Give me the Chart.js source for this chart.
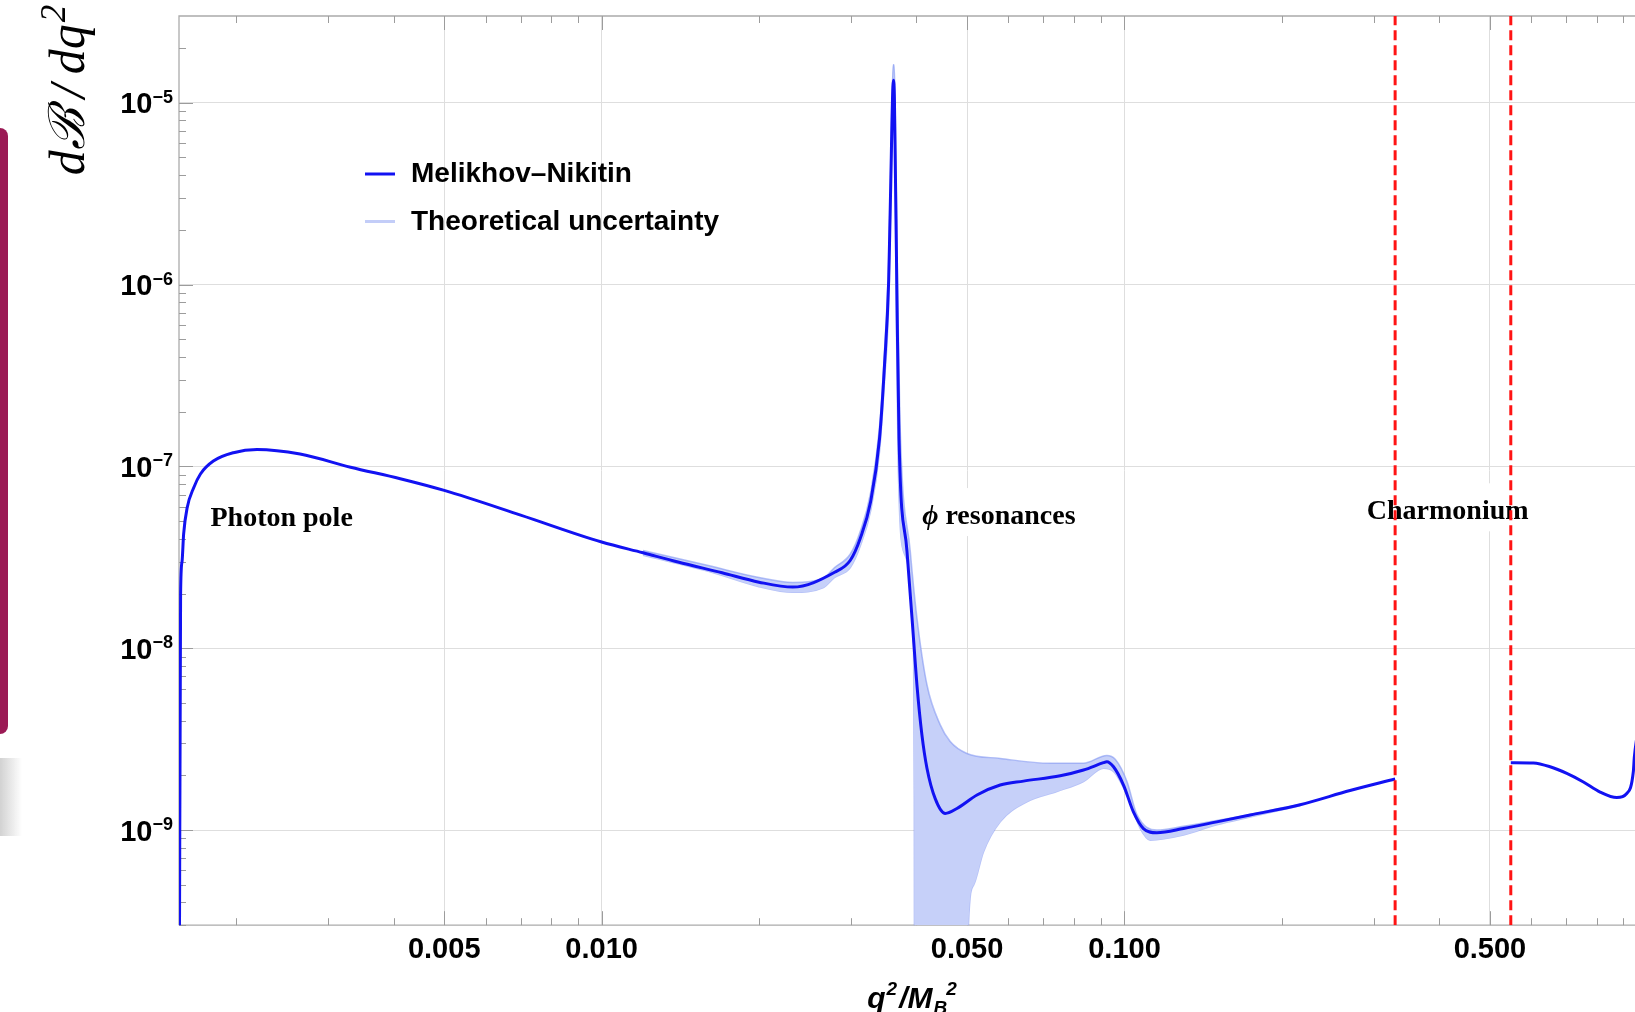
<!DOCTYPE html>
<html>
<head>
<meta charset="utf-8">
<title>dB/dq2 – Melikhov–Nikitin</title>
<script src="https://cdn.jsdelivr.net/npm/chart.js@4.4.1/dist/chart.umd.min.js"></script>
<style>
  html, body { margin: 0; padding: 0; background: #fff; }
  #wrap { position: relative; width: 1635px; height: 1012px; overflow: hidden; }
  canvas { display: block; }
  .edge-strip { position: absolute; left: -8px; top: 128px; width: 16px; height: 606px; background: #9b1a55; border-radius: 9px; }
  .edge-shade { position: absolute; left: 0; top: 758px; width: 22px; height: 78px; background: linear-gradient(to right, #d2d2d2, rgba(255,255,255,0)); }
</style>
</head>
<body>
<div id="wrap">
  <canvas id="rateChart" width="1635" height="1012"></canvas>
  <div class="edge-strip"></div>
  <div class="edge-shade"></div>
</div>
<script>
// ---------------------------------------------------------------------------
// Data: differential branching ratio vs q^2/M_B^2
// ---------------------------------------------------------------------------
const qMin = 0.001555, qMax = 0.947;
const rateMin = 3e-10, rateMax = 3e-5;

const qTicks = [0.005, 0.01, 0.05, 0.1, 0.5];
const rateTicks = [1e-9, 1e-8, 1e-7, 1e-6, 1e-5];
const rateTickExps = ['\u22129', '\u22128', '\u22127', '\u22126', '\u22125'];

const seriesNames = ['Melikhov\u2013Nikitin', 'Theoretical uncertainty'];
const regionLabels = ['Photon pole', 'resonances', 'Charmonium'];

// charmonium veto window
const charmoniumCuts = [0.3293, 0.548];

// central curve
const qCentral = [0.001557, 0.001566, 0.001576, 0.001587, 0.001612, 0.001659, 0.001709, 0.001809, 0.001976, 0.002193,
  0.00265, 0.00331, 0.00412, 0.005, 0.007, 0.01, 0.012, 0.014, 0.017, 0.02,
  0.0232, 0.0279, 0.0299, 0.03124, 0.0327, 0.0340, 0.03475, 0.0354, 0.03567, 0.03615,
  0.03631, 0.03672, 0.03705, 0.03837, 0.03923, 0.04009, 0.04098, 0.0419, 0.04345, 0.04541,
  0.04781, 0.05222, 0.05785, 0.06409, 0.07535, 0.08348, 0.09116, 0.0925, 0.09528, 0.09956,
  0.1040, 0.1087, 0.1153, 0.1297, 0.1502, 0.1739, 0.2168, 0.27, 0.3293, 0.44,
  0.548, 0.6054, 0.6516, 0.7013, 0.7545, 0.8121, 0.874, 0.9133, 0.9401, 0.944,
  0.96];
const rateCentral = [1e-10, 2.0e-8, 3.0e-8, 4.25e-8, 5.93e-8, 7.64e-8, 9.09e-8, 1.07e-7, 1.19e-7, 1.24e-7,
  1.17e-7, 9.9e-8, 8.56e-8, 7.38e-8, 5.4e-8, 3.84e-8, 3.35e-8, 2.98e-8, 2.6e-8, 2.31e-8,
  2.17e-8, 2.62e-8, 3.05e-8, 4.03e-8, 6.41e-8, 1.42e-7, 3.58e-7, 1.05e-6, 2.9e-6, 1.33e-5,
  1.03e-5, 8.2e-7, 1.42e-7, 3.42e-8, 1.47e-8, 6.3e-9, 3.34e-9, 2.19e-9, 1.49e-9, 1.235e-9,
  1.315e-9, 1.56e-9, 1.77e-9, 1.86e-9, 1.99e-9, 2.14e-9, 2.35e-9, 2.38e-9, 2.23e-9, 1.77e-9,
  1.26e-9, 1.02e-9, 9.67e-10, 1.02e-9, 1.11e-9, 1.21e-9, 1.38e-9, 1.65e-9, 1.91e-9, null,
  2.35e-9, 2.34e-9, 2.23e-9, 2.05e-9, 1.84e-9, 1.62e-9, 1.51e-9, 1.59e-9, 2.1e-9, 2.5e-9,
  3.6e-9];

// uncertainty band, upper edge
const qUpper = [0.012, 0.016, 0.02, 0.0232, 0.0265, 0.0279, 0.0299, 0.03124, 0.0327, 0.0340,
  0.03475, 0.0354, 0.03567, 0.0361, 0.03625, 0.0364, 0.0368, 0.0372, 0.03893, 0.04009,
  0.0419, 0.04443, 0.04642, 0.04996, 0.05785, 0.07209, 0.08337, 0.09253, 0.0960, 0.1011,
  0.1056, 0.1153, 0.1297, 0.1502, 0.1739, 0.2168];
const rateUpper = [3.45e-8, 2.85e-8, 2.45e-8, 2.30e-8, 2.42e-8, 2.78e-8, 3.3e-8, 4.4e-8, 7.2e-8, 1.65e-7,
  4.3e-7, 1.35e-6, 3.6e-6, 1.62e-5, 1.62e-5, 1.1e-5, 1.0e-6, 1.8e-7, 3.42e-8, 1.47e-8,
  6.3e-9, 3.79e-9, 3.07e-9, 2.64e-9, 2.48e-9, 2.33e-9, 2.33e-9, 2.57e-9, 2.45e-9, 1.85e-9,
  1.22e-9, 1.0e-9, 1.05e-9, 1.13e-9, 1.22e-9, 1.39e-9];

// uncertainty band, lower edge (drops out of range between the two phi dips)
const qLower = [0.012, 0.016, 0.02, 0.0232, 0.0265, 0.0279, 0.0299, 0.03124, 0.0327, 0.0340,
  0.03475, 0.0354, 0.03567, 0.03615, 0.03631, 0.0366, 0.0369, 0.03779, 0.0395, 0.03962,
  0.0397, 0.0499, 0.0503, 0.05143, 0.05374, 0.05785, 0.06508, 0.07425, 0.08348, 0.09116,
  0.09528, 0.1011, 0.1072, 0.1120, 0.1297, 0.1502, 0.1739, 0.2168];
const rateLower = [3.25e-8, 2.65e-8, 2.18e-8, 2.03e-8, 2.15e-8, 2.45e-8, 2.78e-8, 3.65e-8, 5.7e-8, 1.2e-7,
  2.9e-7, 7.8e-7, 2.3e-6, 1.1e-5, 8.5e-6, 7e-7, 1.1e-7, 3.42e-8, 1.0e-8, 1.5e-9,
  1e-11, 1e-11, 3.0e-10, 4.97e-10, 7.59e-10, 1.11e-9, 1.43e-9, 1.63e-9, 1.85e-9, 2.19e-9,
  2.10e-9, 1.56e-9, 1.02e-9, 8.81e-10, 9.4e-10, 1.07e-9, 1.18e-9, 1.36e-9];

// =============================================================================
// Helpers
// =============================================================================
const SANS = '"Liberation Sans", Arial, Helvetica, sans-serif';
const SERIF = '"Liberation Serif", "DejaVu Serif", serif';

const toPoints = (qs, rs) => qs.map((q, i) => ({ x: q, y: rs[i] }));

// draw a row of text runs [text, font, dy, dx]; returns total advance
function drawRuns(ctx, runs, x, y, dryRun) {
  let cx = x;
  for (const [t, f, dy = 0, dx = 0] of runs) {
    ctx.font = f;
    if (!dryRun) ctx.fillText(t, cx + dx, y + dy);
    cx += dx + ctx.measureText(t).width;
  }
  return cx - x;
}

function vline(ctx, x, y0, y1) { ctx.moveTo(x, y0); ctx.lineTo(x, y1); }
function hline(ctx, y, x0, x1) { ctx.moveTo(x0, y); ctx.lineTo(x1, y); }

// =============================================================================
// Plugins: frame + ticks, region labels, inset legend, axis titles
// =============================================================================
const frameTicks = {
  id: 'frameTicks',
  beforeDatasetsDraw(chart) {
    const { ctx, chartArea: a, scales: { x, y } } = chart;
    ctx.save();
    ctx.strokeStyle = '#ababab';
    ctx.lineWidth = 1.3;
    ctx.beginPath();
    ctx.moveTo(a.left, a.bottom); ctx.lineTo(a.left, a.top); ctx.lineTo(a.right, a.top);
    hline(ctx, a.bottom, a.left, a.right);
    ctx.stroke();

    ctx.strokeStyle = '#9c9c9c';
    ctx.lineWidth = 1;
    ctx.beginPath();
    for (let e = -3; e <= 0; e++) {
      for (let m = 1; m <= 9; m++) {
        const v = m * Math.pow(10, e);
        if (v < x.min || v > x.max) continue;
        const major = qTicks.some(t => Math.abs(t - v) / t < 1e-6);
        const len = major ? 14 : 7;
        const px = Math.round(x.getPixelForValue(v)) + 0.5;
        vline(ctx, px, a.bottom, a.bottom - len);
        vline(ctx, px, a.top, a.top + len);
      }
    }
    for (let e = -10; e <= -5; e++) {
      for (let m = 1; m <= 9; m++) {
        const v = m * Math.pow(10, e);
        if (v < y.min || v > y.max) continue;
        const len = m === 1 ? 14 : 7;
        const py = Math.round(y.getPixelForValue(v)) + 0.5;
        hline(ctx, py, a.left, a.left + len);
      }
    }
    ctx.stroke();
    ctx.restore();
  },
  afterDraw(chart) {
    const { ctx, chartArea: a, scales: { y } } = chart;
    ctx.save();
    ctx.fillStyle = '#000';
    ctx.textAlign = 'right';
    ctx.textBaseline = 'alphabetic';
    rateTicks.forEach((v, i) => {
      const py = y.getPixelForValue(v);
      const xr = a.left - 6;
      ctx.font = `bold 18px ${SANS}`;
      const ew = ctx.measureText(rateTickExps[i]).width;
      ctx.fillText(rateTickExps[i], xr, py);
      ctx.font = `bold 29px ${SANS}`;
      ctx.fillText('10', xr - ew, py + 10.5);
    });
    ctx.restore();
  }
};

const regionNotes = {
  id: 'regionNotes',
  beforeDatasetsDraw(chart) {
    const { ctx, scales: { x, y } } = chart;
    const bold = `bold 28px ${SERIF}`;
    const notes = [
      { runs: [[regionLabels[0], bold]], q: 0.001786, r: 4.7e-8 },
      { runs: [['\u03d5', `bold italic 28px ${SERIF}`], [' ' + regionLabels[1], bold]], q: 0.04104, r: 4.82e-8 },
      { runs: [[regionLabels[2], bold]], q: 0.2907, r: 5.12e-8 }
    ];
    ctx.save();
    ctx.textBaseline = 'alphabetic';
    ctx.textAlign = 'left';
    notes.forEach(n => {
      const px = x.getPixelForValue(n.q);
      const py = y.getPixelForValue(n.r);
      const w = drawRuns(ctx, n.runs, px, py, true);
      ctx.fillStyle = '#fff';
      ctx.fillRect(px - 4, py - 36, w + 8, 48);
      ctx.fillStyle = '#000';
      drawRuns(ctx, n.runs, px, py);
    });
    ctx.restore();
  }
};

const insetLegend = {
  id: 'insetLegend',
  afterDatasetsDraw(chart) {
    const { ctx, chartArea: a } = chart;
    const rows = chart.data.datasets.filter(d => d.legendSwatch);
    ctx.save();
    ctx.font = `bold 28px ${SANS}`;
    ctx.textBaseline = 'alphabetic';
    ctx.textAlign = 'left';
    rows.forEach((d, i) => {
      const ly = a.top + 158 + i * 47.5;
      ctx.strokeStyle = d.legendSwatch;
      ctx.lineWidth = 3;
      ctx.beginPath();
      hline(ctx, ly, a.left + 186, a.left + 216);
      ctx.stroke();
      ctx.fillStyle = '#000';
      ctx.fillText(d.label, a.left + 232, ly + 8);
    });
    ctx.restore();
  }
};

const axisTitles = {
  id: 'axisTitles',
  afterDraw(chart) {
    const { ctx, chartArea: a } = chart;
    ctx.save();
    ctx.fillStyle = '#000';
    ctx.textBaseline = 'alphabetic';
    ctx.textAlign = 'left';

    // x: q^2 / M_B^2
    const big = `bold italic 30px ${SANS}`, small = `bold italic 19px ${SANS}`;
    const xRuns = [['q', big], ['2', small, -13, 1], ['/', big, 0, 2], ['M', big], ['B', small, 6, 1], ['2', small, -13, -1]];
    const xw = drawRuns(ctx, xRuns, 0, 0, true);
    drawRuns(ctx, xRuns, 912 - xw / 2, a.bottom + 83);

    // y: dB / dq^2, rotated
    const yBig = `italic 50px ${SERIF}`, ySmall = `italic 35px ${SERIF}`;
    const yRuns = [['d\u212C', yBig], ['\u2009/\u2009', yBig], ['dq', yBig], ['2', ySmall, -19, 2]];
    const yw = drawRuns(ctx, yRuns, 0, 0, true);
    ctx.translate(84, 90);
    ctx.rotate(-Math.PI / 2);
    drawRuns(ctx, yRuns, -yw / 2, 0);
    ctx.restore();
  }
};

// =============================================================================
// Chart
// =============================================================================
const cutLine = q => ({
  label: 'cut',
  data: [{ x: q, y: rateMin }, { x: q, y: rateMax }],
  borderColor: '#ff1414',
  borderWidth: 3,
  borderDash: [10, 5],
  pointRadius: 0,
  fill: false,
  tension: 0
});

new Chart(document.getElementById('rateChart'), {
  type: 'line',
  data: {
    datasets: [
      cutLine(charmoniumCuts[0]),
      cutLine(charmoniumCuts[1]),
      {
        label: seriesNames[0],
        legendSwatch: '#1212f2',
        data: toPoints(qCentral, rateCentral),
        borderColor: '#1212f2',
        borderWidth: 3,
        pointRadius: 0,
        spanGaps: false,
        cubicInterpolationMode: 'monotone',
        fill: false
      },
      {
        label: seriesNames[1],
        legendSwatch: '#c3cdf8',
        data: toPoints(qUpper, rateUpper),
        borderColor: 'rgba(120,142,240,0.55)',
        borderWidth: 1.5,
        backgroundColor: 'rgb(198,208,249)',
        pointRadius: 0,
        cubicInterpolationMode: 'monotone',
        fill: '+1'
      },
      {
        label: 'band-low',
        data: toPoints(qLower, rateLower),
        borderColor: 'rgba(120,142,240,0.55)',
        borderWidth: 1.5,
        pointRadius: 0,
        cubicInterpolationMode: 'monotone',
        fill: false
      }
    ]
  },
  options: {
    responsive: false,
    animation: false,
    devicePixelRatio: 1,
    layout: { padding: { left: 179, top: 16, right: 0, bottom: 38 } },
    plugins: {
      legend: { display: false },
      tooltip: { enabled: false }
    },
    scales: {
      x: {
        type: 'logarithmic',
        bounds: 'data',
        min: qMin,
        max: qMax,
        afterBuildTicks: s => { s.ticks = qTicks.map(v => ({ value: v })); },
        grid: { color: '#dedede', lineWidth: 1, drawTicks: false },
        border: { display: false },
        ticks: {
          autoSkip: false,
          maxRotation: 0,
          minRotation: 0,
          padding: 7,
          color: '#000',
          font: { family: SANS, size: 29, weight: 'bold' },
          callback: v => Number(v).toFixed(3)
        }
      },
      y: {
        type: 'logarithmic',
        bounds: 'data',
        min: rateMin,
        max: rateMax,
        afterBuildTicks: s => { s.ticks = rateTicks.map(v => ({ value: v })); },
        grid: { color: '#dedede', lineWidth: 1, drawTicks: false },
        border: { display: false },
        ticks: { display: false }
      }
    }
  },
  plugins: [frameTicks, regionNotes, insetLegend, axisTitles]
});
</script>
</body>
</html>
